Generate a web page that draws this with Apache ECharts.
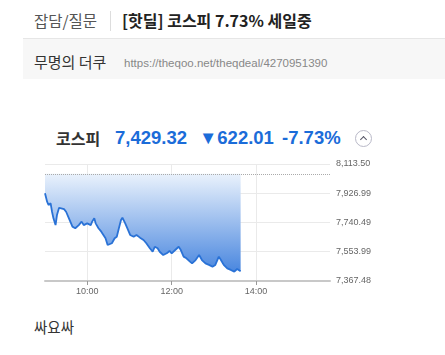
<!doctype html>
<html>
<head>
<meta charset="utf-8">
<title>코스피</title>
<script src="https://cdn.jsdelivr.net/npm/echarts@6/dist/echarts.min.js"></script>
<style>
  body { margin: 0; background: #fff; font-family: "Noto Sans CJK KR", "Liberation Sans", sans-serif; }
  .abs { position: absolute; white-space: nowrap; }
  #cat { left: 34px; top: 10px; line-height: 20px; font-size: 15.5px; color: #555; }
  #sep { left: 110px; top: 11px; width: 1px; height: 20px; background: #ddd; }
  #ttl { left: 122px; top: 10px; line-height: 20px; font-size: 16px; font-weight: bold; color: #222; }
  #band { left: 23px; top: 38px; width: 422px; height: 40px; background: #f7f7f7; border-top: 1px solid #e6e6e6; }
  #nick { left: 34px; top: 52px; line-height: 20px; font-size: 15px; color: #333; }
  #url { left: 124px; top: 53px; line-height: 20px; font-size: 11.5px; color: #888; font-family: "Liberation Sans", sans-serif; }
  #kospi { left: 56px; top: 128px; line-height: 20px; font-size: 16px; font-weight: bold; color: #333; }
  .num { top: 127px; line-height: 22px; font-size: 18.5px; font-weight: bold; color: #1b6cd9; font-family: "Liberation Sans", sans-serif; }
  #btn { left: 355px; top: 130px; width: 15px; height: 15px; border: 1px solid #b9b9c8; border-radius: 50%; }
  #btn span { position: absolute; left: 5px; top: 6px; width: 4px; height: 4px; border-left: 1.5px solid #556; border-top: 1.5px solid #556; transform: rotate(45deg); }
  #chart { left: 0; top: 150px; width: 445px; height: 150px; }
  #body { left: 34px; top: 317px; line-height: 20px; font-size: 14.5px; color: #333; }
</style>
</head>
<body>
<div class="abs" id="cat">잡담/질문</div>
<div class="abs" id="sep"></div>
<div class="abs" id="ttl">[핫딜] 코스피 7.73% 세일중</div>
<div class="abs" id="band"></div>
<div class="abs" id="nick">무명의 더쿠</div>
<div class="abs" id="url">https://theqoo.net/theqdeal/4270951390</div>
<div class="abs" id="kospi">코스피</div>
<div class="abs num" style="left:115px">7,429.32</div>
<div class="abs num" style="left:199px">▼622.01</div>
<div class="abs num" style="left:282px">-7.73%</div>
<div class="abs" id="btn"><span></span></div>
<div class="abs" id="chart"></div>
<div class="abs" id="body">싸요싸</div>

<script type="text/javascript">
// minutes after 09:00
var minutes = [0, 3, 5, 8, 10, 12, 15, 17, 20, 23, 27, 30, 34, 39, 43, 48, 52, 55, 60, 65,
    67, 70, 72, 76, 80, 83, 86, 89, 91, 95, 99, 102, 105, 108, 110, 114, 118, 121, 126, 130,
    135, 140, 144, 149, 153, 156, 160, 163, 168, 173, 177, 180, 185, 190, 193, 197, 201, 206, 209, 214,
    219, 223, 228, 233, 238, 242, 247, 250, 254, 259, 264, 269, 273, 278];
var prices = [7927, 7873, 7852, 7863, 7809, 7767, 7724, 7788, 7834, 7831, 7826, 7809, 7767, 7714, 7704, 7724, 7746, 7724, 7735, 7724,
    7746, 7767, 7735, 7704, 7682, 7661, 7640, 7597, 7586, 7608, 7640, 7650, 7704, 7756, 7771, 7735, 7693, 7661, 7650, 7661,
    7644, 7629, 7608, 7576, 7554, 7586, 7576, 7554, 7533, 7544, 7559, 7544, 7565, 7586, 7565, 7523, 7512, 7491, 7480, 7501,
    7533, 7501, 7480, 7470, 7459, 7470, 7523, 7501, 7470, 7448, 7438, 7427, 7444, 7429.32];
var prevClose = 8051.33;
var yTicks = [7367.48, 7553.99, 7740.49, 7926.99, 8113.50];
var yTickLabels = ['7,367.48', '7,553.99', '7,740.49', '7,926.99', '8,113.50'];
var xTicks = [60, 180, 300];
var xTickLabels = ['10:00', '12:00', '14:00'];

var points = [];
for (var i = 0; i < minutes.length; ++i) {
    points.push([minutes[i], prices[i]]);
}

var myChart = echarts.init(document.getElementById('chart'));
var option = {
    animation: false,
    grid: { left: 45, right: 115, top: 14, height: 117, outerBoundsMode: 'none' },
    xAxis: {
        type: 'value',
        min: 0,
        max: 405,
        axisLine: { show: true, lineStyle: { color: '#c8c8c8', width: 2 } },
        axisTick: { show: true, customValues: xTicks, length: 4, lineStyle: { color: '#999' } },
        axisLabel: {
            customValues: xTicks,
            color: '#666',
            fontSize: 9,
            margin: 6,
            formatter: function (v) { return xTickLabels[xTicks.indexOf(v)]; }
        },
        splitLine: { show: true, lineStyle: { color: '#eaeaea' } }
    },
    yAxis: {
        type: 'value',
        position: 'right',
        min: yTicks[0],
        max: yTicks[yTicks.length - 1],
        axisLine: { show: false },
        axisTick: { show: false, customValues: yTicks },
        axisLabel: {
            customValues: yTicks,
            color: '#666',
            fontSize: 9,
            margin: 6,
            formatter: function (v) { return yTickLabels[yTicks.indexOf(v)]; }
        },
        splitLine: { show: true, lineStyle: { color: '#eaeaea' } }
    },
    series: [{
        type: 'line',
        data: points,
        symbol: 'none',
        lineStyle: { color: '#2a72d6', width: 1.8 },
        areaStyle: {
            origin: prevClose,
            opacity: 1,
            color: new echarts.graphic.LinearGradient(0, 0, 0, 1, [
                { offset: 0, color: '#eaf2fc' },
                { offset: 1, color: '#4a87df' }
            ])
        },
        markLine: {
            silent: true,
            symbol: 'none',
            label: { show: false },
            lineStyle: { color: '#aaa', type: 'dotted', width: 1 },
            data: [{ yAxis: prevClose }]
        }
    }]
};
myChart.setOption(option);
</script>
</body>
</html>
